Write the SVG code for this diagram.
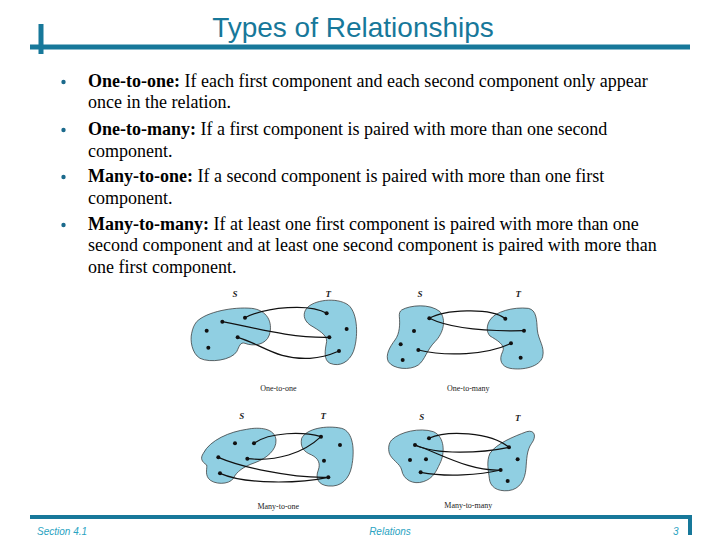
<svg xmlns="http://www.w3.org/2000/svg" width="720" height="540" viewBox="0 0 720 540">
<style>
.title{font-family:"Liberation Sans",Arial,sans-serif;font-size:28px;fill:#17789a;}
.body{font-family:"Liberation Serif","Times New Roman",serif;font-size:18px;fill:#000;}
.b{font-weight:bold;}
.foot{font-family:"Liberation Sans",Arial,sans-serif;font-size:10px;font-style:italic;fill:#2aa3c2;}
.blob{fill:#90cfe2;stroke:#333;stroke-width:2.2;}
.edge{fill:none;stroke:#111;stroke-width:3.6;}
.dot{fill:#111;}
.st{font-family:"Liberation Serif","Times New Roman",serif;font-size:27px;font-style:italic;font-weight:bold;fill:#222;text-anchor:middle;}
.cap{font-family:"Liberation Serif","Times New Roman",serif;font-size:24px;fill:#222;text-anchor:middle;}
.bar{fill:#17789a;}
</style>
<g id="header">
<rect class="bar" x="30" y="44.5" width="660" height="5"/>
<rect class="bar" x="38.5" y="24" width="5" height="30"/>
<text class="title" x="353" y="37" text-anchor="middle">Types of Relationships</text>
</g>
<g id="bullets">
<circle cx="63.5" cy="82" r="2.2" fill="#1b6a8c"/>
<circle cx="63.5" cy="130" r="2.2" fill="#1b6a8c"/>
<circle cx="63.5" cy="177" r="2.2" fill="#1b6a8c"/>
<circle cx="63.5" cy="225" r="2.2" fill="#1b6a8c"/>
<text class="body" x="88" y="87"><tspan class="b">One-to-one:</tspan> If each first component and each second component only appear</text>
<text class="body" x="88" y="108">once in the relation.</text>
<text class="body" x="88" y="135"><tspan class="b">One-to-many:</tspan> If a first component is paired with more than one second</text>
<text class="body" x="88" y="157">component.</text>
<text class="body" x="88" y="182"><tspan class="b">Many-to-one:</tspan> If a second component is paired with more than one first</text>
<text class="body" x="88" y="204">component.</text>
<text class="body" x="88" y="230"><tspan class="b">Many-to-many:</tspan> If at least one first component is paired with more than one</text>
<text class="body" x="88" y="251">second component and at least one second component is paired with more than</text>
<text class="body" x="88" y="273">one first component.</text>
</g>
<g id="fig-one-to-one" transform="translate(190,280) scale(0.3333)">
<path class="blob" d="M20,125 C50,95 130,80 185,85 C230,90 250,125 238,165 C228,195 190,200 165,190 C150,185 148,200 140,215 C125,240 60,250 30,235 C5,220 0,180 5,160 C8,145 12,135 20,125 Z"/>
<path class="blob" d="M350,85 C370,60 440,50 475,75 C505,100 505,175 490,215 C478,245 450,262 420,250 C400,240 405,210 410,185 C412,165 385,150 360,135 C340,120 338,100 350,85 Z"/>
<g class="connectors">
<path class="edge" d="M165,113 C230,80 360,70 410,100"/>
<path class="edge" d="M97,125 C180,140 300,175 418,172"/>
<path class="edge" d="M143,172 C220,195 260,240 360,235 C410,232 430,220 447,213"/>
</g>
<g class="dot"><circle cx="165" cy="113" r="6"/><circle cx="97" cy="125" r="6"/><circle cx="50" cy="152" r="6"/><circle cx="55" cy="203" r="6"/><circle cx="143" cy="172" r="6"/><circle cx="410" cy="100" r="6"/><circle cx="470" cy="147" r="6"/><circle cx="418" cy="172" r="6"/><circle cx="447" cy="213" r="6"/></g>
<text class="st" x="135" y="52">S</text><text class="st" x="415" y="52">T</text>
<text class="cap" x="265" y="333">One-to-one</text>
</g>
<g id="fig-one-to-many" transform="translate(380,280) scale(0.3333)">
<path class="blob" d="M65,90 C90,75 150,70 180,95 C200,120 190,160 165,185 C140,210 135,240 115,255 C90,272 40,268 25,245 C15,225 30,200 45,180 C60,160 60,130 58,110 C57,100 60,93 65,90 Z"/>
<path class="blob" d="M330,120 C345,95 400,80 445,85 C470,90 470,120 472,150 C475,180 495,200 488,230 C480,260 430,272 390,265 C365,260 355,240 368,215 C378,195 350,180 330,168 C318,155 320,135 330,120 Z"/>
<g class="connectors">
<path class="edge" d="M148,115 C190,90 330,80 376,116"/>
<path class="edge" d="M148,115 C200,140 300,155 432,152"/>
<path class="edge" d="M115,210 C200,230 320,225 393,190"/>
</g>
<g class="dot"><circle cx="148" cy="115" r="6"/><circle cx="102" cy="153" r="6"/><circle cx="62" cy="193" r="6"/><circle cx="115" cy="210" r="6"/><circle cx="68" cy="240" r="6"/><circle cx="376" cy="116" r="6"/><circle cx="432" cy="152" r="6"/><circle cx="393" cy="190" r="6"/><circle cx="422" cy="233" r="6"/></g>
<text class="st" x="120" y="52">S</text><text class="st" x="415" y="52">T</text>
<text class="cap" x="265" y="333">One-to-many</text>
</g>
<g id="fig-many-to-one" transform="translate(190,400) scale(0.3333)">
<path class="blob" d="M40,160 C60,120 120,95 170,88 C210,80 255,85 258,120 C260,150 230,175 195,188 C160,200 140,215 130,235 C118,255 70,255 55,235 C45,220 52,205 50,195 C35,185 30,175 40,160 Z"/>
<path class="blob" d="M335,115 C350,85 410,75 455,85 C490,95 495,150 485,200 C478,235 455,262 415,258 C385,255 375,235 385,210 C392,190 385,175 365,165 C340,155 330,140 335,115 Z"/>
<g class="connectors">
<path class="edge" d="M192,130 C240,95 340,95 393,110"/>
<path class="edge" d="M172,176 C260,185 340,160 393,110"/>
<path class="edge" d="M85,172 C150,200 300,235 415,232"/>
<path class="edge" d="M90,220 C170,255 330,250 415,232"/>
</g>
<g class="dot"><circle cx="135" cy="130" r="6"/><circle cx="192" cy="130" r="6"/><circle cx="172" cy="176" r="6"/><circle cx="85" cy="172" r="6"/><circle cx="90" cy="220" r="6"/><circle cx="393" cy="110" r="6"/><circle cx="450" cy="135" r="6"/><circle cx="402" cy="182" r="6"/><circle cx="415" cy="232" r="6"/></g>
<text class="st" x="155" y="56">S</text><text class="st" x="400" y="56">T</text>
<text class="cap" x="265" y="328">Many-to-one</text>
</g>
<g id="fig-many-to-many" transform="translate(380,400) scale(0.3333)">
<path class="blob" d="M35,120 C60,95 120,82 160,95 C195,110 195,160 180,190 C168,215 160,235 130,245 C100,255 70,240 65,210 C60,190 35,180 28,160 C24,145 26,130 35,120 Z"/>
<path class="blob" d="M330,160 C350,130 400,110 440,95 C465,88 470,110 455,130 C440,150 440,180 438,205 C435,240 420,268 385,272 C350,275 330,260 328,235 C326,215 318,185 330,160 Z"/>
<g class="connectors">
<path class="edge" d="M147,115 C200,90 330,95 387,142"/>
<path class="edge" d="M105,135 C170,165 300,160 387,142"/>
<path class="edge" d="M105,135 C180,160 270,215 362,210"/>
<path class="edge" d="M122,217 C200,232 300,225 362,210"/>
</g>
<g class="dot"><circle cx="147" cy="115" r="6"/><circle cx="105" cy="135" r="6"/><circle cx="90" cy="180" r="6"/><circle cx="138" cy="178" r="6"/><circle cx="122" cy="217" r="6"/><circle cx="387" cy="142" r="6"/><circle cx="413" cy="178" r="6"/><circle cx="362" cy="210" r="6"/><circle cx="383" cy="243" r="6"/></g>
<text class="st" x="125" y="60">S</text><text class="st" x="413" y="63">T</text>
<text class="cap" x="265" y="325">Many-to-many</text>
</g>
<g id="footer">
<rect class="bar" x="30" y="515" width="662" height="4"/>
<rect class="bar" x="688" y="515" width="4" height="20"/>
<text class="foot" x="37" y="535">Section 4.1</text>
<text class="foot" x="390" y="535" text-anchor="middle">Relations</text>
<text class="foot" x="673" y="535">3</text>
</g>
</svg>
